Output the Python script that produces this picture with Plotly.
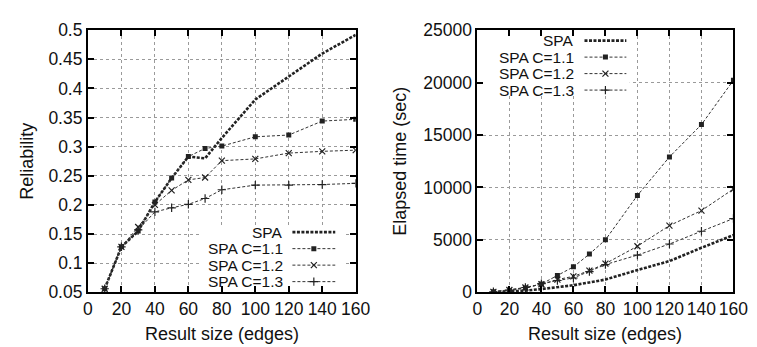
import plotly.graph_objects as go

# ---------------- data ----------------
result_size = [10, 20, 30, 40, 50, 60, 70, 80, 100, 120, 140, 160]

series_names = ["SPA", "SPA C=1.1", "SPA C=1.2", "SPA C=1.3"]

rel_spa = [0.056, 0.128, 0.155, 0.205, 0.246, 0.283, 0.280, 0.315, 0.381, 0.420, 0.460, 0.492]
rel_c11 = [0.056, 0.128, 0.155, 0.205, 0.246, 0.283, 0.297, 0.301, 0.317, 0.320, 0.344, 0.347]
rel_c12 = [0.056, 0.128, 0.162, 0.200, 0.225, 0.243, 0.247, 0.276, 0.279, 0.289, 0.292, 0.294]
rel_c13 = [0.056, 0.128, 0.157, 0.188, 0.195, 0.201, 0.211, 0.226, 0.234, 0.234, 0.235, 0.237]

time_spa = [10, 50, 150, 300, 480, 670, 930, 1210, 2120, 2970, 4240, 5450]
time_c11 = [40, 150, 400, 780, 1600, 2420, 3640, 5000, 9240, 12910, 16000, 20230]
time_c12 = [40, 210, 450, 760, 1210, 1515, 2060, 2730, 4390, 6360, 7790, 9850]
time_c13 = [40, 200, 450, 820, 1120, 1360, 1970, 2640, 3545, 4600, 5820, 7030]

x_ticks = [0, 20, 40, 60, 80, 100, 120, 140, 160]
rel_ticks = [0.05, 0.1, 0.15, 0.2, 0.25, 0.3, 0.35, 0.4, 0.45, 0.5]
rel_tick_text = ["0.05", "0.1", "0.15", "0.2", "0.25", "0.3", "0.35", "0.4", "0.45", "0.5"]
time_ticks = [0, 5000, 10000, 15000, 20000, 25000]
time_tick_text = ["0", "5000", "10000", "15000", "20000", "25000"]

x_title = "Result size (edges)"
left_y_title = "Reliability"
right_y_title = "Elapsed time (sec)"

# ---------------- styles ----------------
FONT = "Liberation Sans, Arial, Helvetica, sans-serif"
W, H = 757, 347
TICK_SIZE = 17.5
LEG_SIZE = 15.5
TITLE_SIZE = 18

styles = [
    dict(line=dict(color="#222222", width=2.6, dash="3px,1.5px"), mode="lines", marker=None),
    dict(line=dict(color="#333333", width=1, dash="3px,2px"), mode="lines+markers",
         marker=dict(symbol="square", size=5, color="#222222")),
    dict(line=dict(color="#333333", width=1, dash="3px,2px"), mode="lines+markers",
         marker=dict(symbol="x-thin", size=6, color="#222222", line=dict(width=1.2, color="#222222"))),
    dict(line=dict(color="#333333", width=1, dash="3px,2px"), mode="lines+markers",
         marker=dict(symbol="cross-thin", size=6, color="#222222", line=dict(width=1.2, color="#222222"))),
]

# pixel geometry
L_X0, L_X1 = 77, 352
R_X0, R_X1 = 477, 740
Y_TOP, Y_BOT = 13, 291

fig = go.Figure()

left_series = [rel_spa, rel_c11, rel_c12, rel_c13]
right_series = [time_spa, time_c11, time_c12, time_c13]

for name, ys, st in zip(series_names, left_series, styles):
    kw = dict(x=result_size, y=ys, name=name, mode=st["mode"], line=st["line"],
              xaxis="x", yaxis="y", showlegend=False)
    if st["marker"]:
        kw["marker"] = st["marker"]
    fig.add_trace(go.Scatter(**kw))

for name, ys, st in zip(series_names, right_series, styles):
    kw = dict(x=result_size, y=ys, name=name, mode=st["mode"], line=st["line"],
              xaxis="x2", yaxis="y2", showlegend=False)
    if st["marker"]:
        kw["marker"] = st["marker"]
    fig.add_trace(go.Scatter(**kw))

# ---------------- manual gnuplot-style legends (overlay axes in 0..1) -------------
def add_legend(xa, ya, text_right, samp_x0, samp_x1, rows):
    for name, st, ry in zip(series_names, styles, rows):
        fig.add_trace(go.Scatter(x=[samp_x0, samp_x1], y=[ry, ry], mode="lines", line=st["line"],
                                 xaxis=xa, yaxis=ya, showlegend=False, hoverinfo="skip"))
        if st["marker"]:
            fig.add_trace(go.Scatter(x=[(samp_x0 + samp_x1) / 2], y=[ry], mode="markers",
                                     marker=st["marker"], xaxis=xa, yaxis=ya,
                                     showlegend=False, hoverinfo="skip"))
        fig.add_annotation(x=text_right, y=ry, xref=xa, yref=ya, text=name, showarrow=False,
                           xanchor="right", yanchor="middle", borderpad=0,
                           font=dict(family=FONT, size=LEG_SIZE, color="#111"))

def fx(px, x0, x1):
    return (px - x0) / (x1 - x0)

def fy(py):
    return (Y_BOT - py) / (Y_BOT - Y_TOP)

# left legend
fig.add_trace(go.Scatter(x=[0.425, 0.96, 0.96, 0.425, 0.425], y=[0.012, 0.012, 0.255, 0.255, 0.012],
                         fill="toself", fillcolor="white", mode="none", xaxis="x3", yaxis="y3",
                         showlegend=False, hoverinfo="skip"))
add_legend("x3", "y3", fx(278, L_X0, L_X1), fx(287, L_X0, L_X1), fx(331, L_X0, L_X1),
           [fy(227.25), fy(244.75), fy(262.25), fy(279.75)])

# right legend
fig.add_trace(go.Scatter(x=[0.008, 0.595, 0.595, 0.008, 0.008], y=[0.752, 0.752, 0.992, 0.992, 0.752],
                         fill="toself", fillcolor="white", mode="none", xaxis="x4", yaxis="y4",
                         showlegend=False, hoverinfo="skip"))
add_legend("x4", "y4", fx(577, R_X0, R_X1), fx(587, R_X0, R_X1), fx(630, R_X0, R_X1),
           [fy(24), fy(41.5), fy(59), fy(76.5)])

# ---------------- axes ----------------
ydom = [1 - Y_BOT / H, 1 - Y_TOP / H]
ldom = [L_X0 / W, L_X1 / W]
rdom = [R_X0 / W, R_X1 / W]

common = dict(showline=True, linecolor="black", linewidth=2, mirror="allticks",
              ticks="inside", ticklen=6, tickwidth=2, tickcolor="black",
              showgrid=True, gridcolor="#9a9a9a", griddash="dot", gridwidth=1,
              zeroline=False, tickfont=dict(family=FONT, size=TICK_SIZE, color="#111"),
              layer="above traces")

fig.update_layout(
    width=W, height=H,
    margin=dict(l=0, r=0, t=0, b=0),
    paper_bgcolor="white", plot_bgcolor="white",
    showlegend=False,
    xaxis=dict(domain=ldom, range=[0, 160], tickvals=x_ticks, anchor="y", **common),
    yaxis=dict(domain=ydom, range=[0.05, 0.5], tickvals=rel_ticks, ticktext=rel_tick_text,
               anchor="x", **common),
    xaxis2=dict(domain=rdom, range=[0, 160], tickvals=x_ticks, anchor="y2", **common),
    yaxis2=dict(domain=ydom, range=[0, 25000], tickvals=time_ticks, ticktext=time_tick_text,
                anchor="x2", **common),
    xaxis3=dict(domain=ldom, range=[0, 1], overlaying="x", anchor="y3", visible=False),
    yaxis3=dict(domain=ydom, range=[0, 1], overlaying="y", anchor="x3", visible=False),
    xaxis4=dict(domain=rdom, range=[0, 1], overlaying="x2", anchor="y4", visible=False),
    yaxis4=dict(domain=ydom, range=[0, 1], overlaying="y2", anchor="x4", visible=False),
)

title_font = dict(family=FONT, size=TITLE_SIZE, color="#111")
fig.add_annotation(x=(L_X0 + L_X1) / 2 / W, y=1 - 335 / H, xref="paper", yref="paper",
                   text=x_title, showarrow=False, xanchor="center", yanchor="middle", font=title_font)
fig.add_annotation(x=(R_X0 + R_X1) / 2 / W, y=1 - 335 / H, xref="paper", yref="paper",
                   text=x_title, showarrow=False, xanchor="center", yanchor="middle", font=title_font)
fig.add_annotation(x=15 / W, y=1 - 152 / H, xref="paper", yref="paper", text=left_y_title,
                   textangle=-90, showarrow=False, xanchor="center", yanchor="middle", font=title_font)
fig.add_annotation(x=398 / W, y=1 - 152 / H, xref="paper", yref="paper", text=right_y_title,
                   textangle=-90, showarrow=False, xanchor="center", yanchor="middle", font=title_font)

fig.write_html("out.html")
